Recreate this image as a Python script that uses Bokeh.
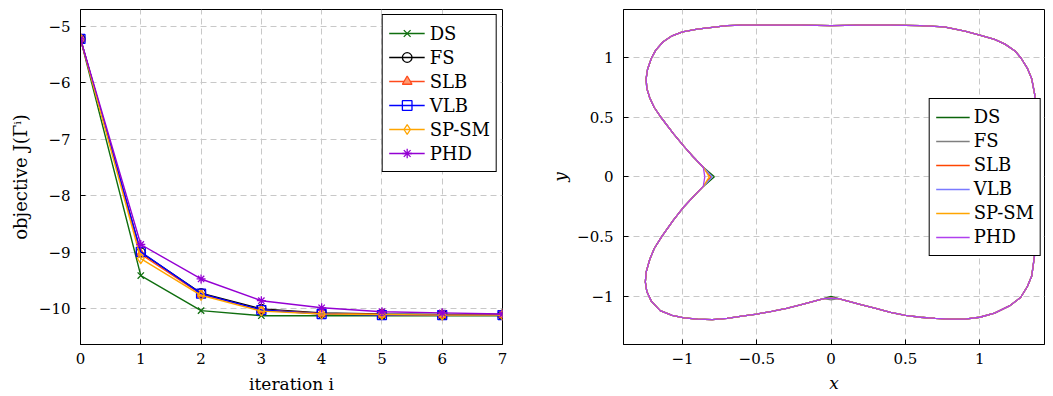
from bokeh.plotting import figure
from bokeh.layouts import row
from bokeh.models import Range1d, FixedTicker
from bokeh.embed import file_html
from bokeh.resources import INLINE

# ---------------- data: left panel ----------------
iterations = [0, 1, 2, 3, 4, 5, 6, 7]
obj_DS = [-5.22, -9.41, -10.03, -10.12, -10.12, -10.12, -10.12, -10.12]
obj_FS = [-5.22, -9.00, -9.72, -10.00, -10.07, -10.09, -10.10, -10.10]
obj_SLB = [-5.22, -9.03, -9.74, -10.02, -10.08, -10.10, -10.11, -10.11]
obj_VLB = [-5.22, -8.99, -9.73, -10.02, -10.09, -10.11, -10.11, -10.11]
obj_SPSM = [-5.22, -9.11, -9.76, -10.04, -10.09, -10.10, -10.11, -10.11]
obj_PHD = [-5.22, -8.86, -9.47, -9.855, -9.98, -10.05, -10.07, -10.09]

left_xticks = [0, 1, 2, 3, 4, 5, 6, 7]
left_yticks = [-10, -9, -8, -7, -6, -5]

# ---------------- data: right panel (shared boundary) ----------------
shape_x = [-0.80, -0.86, -0.93, -0.99, -1.06, -1.14, -1.19, -1.22, -1.245, -1.25,
           -1.24, -1.21, -1.15, -1.07, -0.99, -0.90, -0.80, -0.70, -0.60, -0.50,
           -0.40, -0.30, -0.20, -0.10, -0.05, 0.00, 0.05, 0.10, 0.20, 0.30,
           0.40, 0.50, 0.60, 0.70, 0.80, 0.90, 1.00, 1.10, 1.20, 1.275,
           1.32, 1.35, 1.37, 1.375, 1.38, 1.375, 1.37, 1.35, 1.32, 1.28,
           1.24, 1.17, 1.10, 1.00, 0.90, 0.76, 0.60, 0.40, 0.20, 0.00,
           -0.20, -0.40, -0.60, -0.70, -0.80, -0.90, -1.00, -1.07, -1.13, -1.18,
           -1.21, -1.235, -1.245, -1.24, -1.22, -1.19, -1.14, -1.06, -0.99, -0.93,
           -0.86, -0.80]
shape_y = [0.00, -0.08, -0.17, -0.25, -0.36, -0.50, -0.60, -0.69, -0.80, -0.88,
           -0.96, -1.04, -1.12, -1.16, -1.18, -1.19, -1.195, -1.185, -1.165, -1.148,
           -1.125, -1.10, -1.07, -1.035, -1.02, -1.015, -1.02, -1.035, -1.07, -1.10,
           -1.135, -1.16, -1.175, -1.185, -1.19, -1.19, -1.175, -1.14, -1.08, -1.01,
           -0.92, -0.83, -0.65, -0.40, 0.00, 0.40, 0.69, 0.82, 0.91, 0.99,
           1.05, 1.11, 1.15, 1.186, 1.22, 1.255, 1.265, 1.27, 1.27, 1.265,
           1.27, 1.27, 1.27, 1.265, 1.25, 1.235, 1.213, 1.18, 1.13, 1.06,
           0.99, 0.90, 0.82, 0.74, 0.66, 0.58, 0.49, 0.36, 0.255, 0.17,
           0.08, 0.00]
# per-method differences: notch tip x and bottom value at x = 0
methods = ["DS", "FS", "SLB", "VLB", "SP-SM", "PHD"]
notch_tip_x = [-0.785, -0.80, -0.81, -0.80, -0.82, -0.85]
bottom_at_0 = [-1.000, -1.030, -1.015, -1.015, -1.015, -1.015]

right_xticks = [-1, -0.5, 0, 0.5, 1]
right_yticks = [-1, -0.5, 0, 0.5, 1]

FONT = "DejaVu Serif"


def minus(v):
    s = ("%g" % v)
    return s.replace("-", "\u2212")


def style(p, xt, yt):
    p.outline_line_color = "black"
    p.outline_line_width = 1
    for ax in (p.xaxis[0], p.yaxis[0]):
        ax.axis_line_color = "black"
        ax.major_tick_in = 5
        ax.major_tick_out = 0
        ax.minor_tick_line_color = None
        ax.major_tick_line_color = "black"
        ax.major_label_text_font = FONT
        ax.major_label_text_font_size = "15px"
        ax.major_label_text_color = "black"
        ax.axis_label_text_font = FONT
        ax.axis_label_text_font_size = "17px"
        ax.axis_label_text_font_style = "normal"
        ax.axis_label_text_color = "black"
    p.xaxis[0].ticker = FixedTicker(ticks=xt)
    p.yaxis[0].ticker = FixedTicker(ticks=yt)
    p.xaxis[0].major_label_overrides = {t: minus(t) for t in xt}
    p.yaxis[0].major_label_overrides = {t: minus(t) for t in yt}
    p.xgrid[0].ticker = FixedTicker(ticks=xt)
    p.ygrid[0].ticker = FixedTicker(ticks=yt)
    for g in (p.xgrid[0], p.ygrid[0]):
        g.grid_line_color = "#c8c8c8"
        g.grid_line_dash = "6 4"
        g.grid_line_width = 1


def style_legend(p, loc):
    lg = p.legend[0]
    lg.location = loc
    lg.label_text_font = FONT
    lg.label_text_font_size = "18px"
    lg.label_text_color = "black"
    lg.border_line_color = "black"
    lg.border_line_width = 1
    lg.border_line_alpha = 1.0
    lg.background_fill_alpha = 1.0
    lg.spacing = 0
    lg.label_height = 24
    lg.glyph_height = 24
    lg.glyph_width = 36
    lg.padding = 6
    lg.margin = 5
    lg.label_standoff = 5


# ---------------- left figure ----------------
p1 = figure(width=515, height=396, x_range=Range1d(0, 7), y_range=Range1d(-10.63, -4.70),
            output_backend="svg", toolbar_location=None,
            min_border_left=80, min_border_right=13, min_border_top=8, min_border_bottom=49)
style(p1, left_xticks, left_yticks)
p1.xaxis[0].axis_label = "iteration i"
p1.yaxis[0].axis_label = "objective J(Γⁱ)"
p1.yaxis[0].axis_label_text_font_size = "18px"
p1.xaxis[0].major_label_standoff = 8
p1.yaxis[0].major_label_standoff = 10
p1.xaxis[0].axis_label_standoff = 7
p1.yaxis[0].axis_label_standoff = 5

series = [
    ("DS", obj_DS, "#0f6e0f", "x", None),
    ("FS", obj_FS, "black", "circle", None),
    ("SLB", obj_SLB, "#ff4a1c", "triangle", "#ff9a70"),
    ("VLB", obj_VLB, "#0000ff", "square", None),
    ("SP-SM", obj_SPSM, "#ffa500", "diamond", None),
    ("PHD", obj_PHD, "#9400d3", "asterisk", None),
]
for name, ys, col, mk, fill in series:
    p1.line(iterations, ys, line_color=col, line_width=1.4, legend_label=name)
    p1.scatter(iterations, ys, marker=mk, size=9 if mk != "diamond" else 10,
               line_color=col, line_width=1.3,
               fill_color=fill if fill else None, legend_label=name)
style_legend(p1, "top_right")

# ---------------- right figure ----------------
p2 = figure(width=538, height=396, x_range=Range1d(-1.397, 1.436), y_range=Range1d(-1.403, 1.40),
            output_backend="svg", toolbar_location=None,
            min_border_left=108, min_border_right=9, min_border_top=9, min_border_bottom=50)
style(p2, right_xticks, right_yticks)
p2.xaxis[0].axis_label = "x"
p2.yaxis[0].axis_label = "y"
p2.xaxis[0].axis_label_text_font_style = "italic"
p2.yaxis[0].axis_label_text_font_style = "italic"
p2.xaxis[0].major_label_standoff = 8
p2.yaxis[0].major_label_standoff = 10
p2.xaxis[0].axis_label_standoff = 6
p2.yaxis[0].axis_label_standoff = 4

shape_colors = ["#0a640a", "#7f7f7f", "#ff4500", "#7a7aff", "#ffa500", "#b040ee"]
n = len(shape_x)
bottom_idx = shape_x.index(0.00)
for i, name in enumerate(methods):
    xs = list(shape_x)
    ys = list(shape_y)
    xs[0] = notch_tip_x[i]
    xs[n - 1] = notch_tip_x[i]
    ys[bottom_idx] = bottom_at_0[i]
    p2.line(x=xs, y=ys, line_color=shape_colors[i],
            line_width=1.3, legend_label=name)
style_legend(p2, "center_right")
p2.legend[0].margin = 3
p2.legend[0].glyph_width = 34
p2.legend[0].label_standoff = 4

layout = row(p1, p2, spacing=0)
open("out.html", "w").write(file_html(layout, INLINE))
